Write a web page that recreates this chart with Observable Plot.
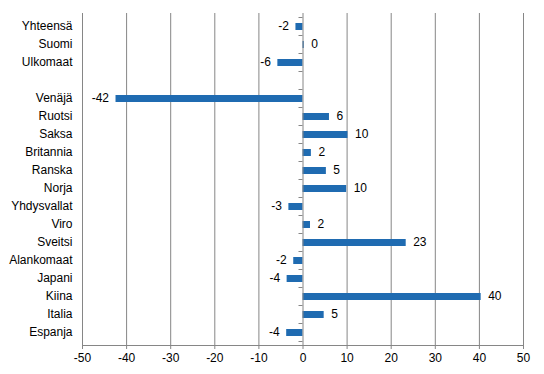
<!DOCTYPE html>
<html><head><meta charset="utf-8">
<script src="https://cdn.jsdelivr.net/npm/d3@7"></script>
<script src="https://cdn.jsdelivr.net/npm/@observablehq/plot@0.6"></script>
<style>body{margin:0;background:#fff}</style>
</head><body><div id="chart"></div>
<script>
const categories = ["Yhteensä","Suomi","Ulkomaat"," ","Venäjä","Ruotsi","Saksa","Britannia","Ranska","Norja","Yhdysvallat","Viro","Sveitsi","Alankomaat","Japani","Kiina","Italia","Espanja"];
const values = [-1.6,0.3,-5.7,null,-42.4,6.0,10.2,1.9,5.3,9.9,-3.2,1.7,23.4,-2.1,-3.6,40.4,4.8,-3.7];
const xTicks = [-50,-40,-30,-20,-10,0,10,20,30,40,50];

const data = categories.map((c,i)=>({cat:c, value:values[i]})).filter(d=>d.value!==null);
const pos = data.filter(d=>d.value>=0);
const neg = data.filter(d=>d.value<0);
const gray = "#868686";
const font = "'Liberation Sans', Arial, sans-serif";

const plot = Plot.plot({
  width:544, height:374,
  marginLeft:82, marginRight:21, marginTop:13, marginBottom:29,
  style:{fontFamily:font, fontSize:"12px", color:"#000", background:"#fff"},
  x:{domain:[-50,50], ticks:xTicks, label:null},
  y:{domain:categories, paddingInner:0.62, paddingOuter:0.31, label:null},
  marks:[
    Plot.ruleX(xTicks.filter(t=>t!==0), {stroke:gray, strokeWidth:1}),
    Plot.barX(data, {y:"cat", x:"value", fill:"#1f6bb1"}),
    Plot.ruleX([0], {stroke:gray, strokeWidth:1}),
    Plot.frame({anchor:"bottom", stroke:gray}),
    Plot.axisX({ticks:xTicks, tickSize:4, tickPadding:4, stroke:gray, fill:"#000", fontSize:12, tickFormat:d=>String(d), label:null}),
    Plot.axisY({tickSize:0, tickPadding:10, fill:"#000", fontSize:12, dy:-1, label:null}),
    Plot.text(pos, {y:"cat", x:"value", text:d=>String(Math.round(d.value)), textAnchor:"start", dx:7, dy:-1, fontSize:12, fill:"#000"}),
    Plot.text(neg, {y:"cat", x:"value", text:d=>String(Math.round(d.value)), textAnchor:"end", dx:-7, dy:-1, fontSize:12, fill:"#000"})
  ]
});

// small ticks on the zero axis at category band boundaries, from the scales
const ys = plot.scale("y"), xs = plot.scale("x");
const x0 = xs.apply(0);
const centers = categories.map(c => ys.apply(c) + ys.bandwidth/2);
const bounds = centers.map(c => c - ys.step/2).concat([centers[centers.length-1] + ys.step/2]);
const g = d3.select(plot).append("g").attr("stroke", gray);
bounds.forEach(b => g.append("line").attr("x1", x0-4).attr("x2", x0).attr("y1", b).attr("y2", b));

document.getElementById("chart").appendChild(plot);
</script>
</body></html>
